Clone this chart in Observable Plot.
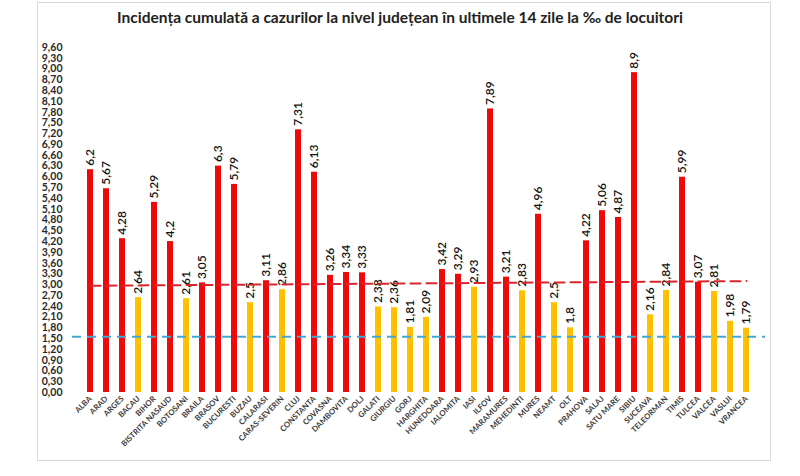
<!DOCTYPE html>
<html><head><meta charset="utf-8">
<script src="https://cdn.jsdelivr.net/npm/d3@7"></script>
<script src="https://cdn.jsdelivr.net/npm/@observablehq/plot@0.6"></script>
<style>
body{margin:0;background:#fff;font-family:Lato,"Open Sans",sans-serif;}
#wrap{position:relative;width:800px;height:476px;overflow:hidden;background:#fff;}
#box{position:absolute;left:37px;top:2px;width:732px;height:457px;border:1px solid #d9d9d9;}
#title{position:absolute;left:0;top:8px;width:800px;text-align:center;font-weight:700;font-size:15.5px;color:#222;}
#chart{position:absolute;left:0;top:30px;}
</style></head><body>
<div id="wrap"><div id="box"></div><div id="title">Incidența cumulată a cazurilor la nivel județean în ultimele 14 zile la ‰ de locuitori</div><div id="chart"></div></div>
<script>
const counties = ["ALBA","ARAD","ARGES","BACAU","BIHOR","BISTRITA NASAUD","BOTOSANI","BRAILA","BRASOV","BUCURESTI","BUZAU","CALARASI","CARAS-SEVERIN","CLUJ","CONSTANTA","COVASNA","DAMBOVITA","DOLJ","GALATI","GIURGIU","GORJ","HARGHITA","HUNEDOARA","IALOMITA","IASI","ILFOV","MARAMURES","MEHEDINTI","MURES","NEAMT","OLT","PRAHOVA","SALAJ","SATU MARE","SIBIU","SUCEAVA","TELEORMAN","TIMIS","TULCEA","VALCEA","VASLUI","VRANCEA"];
const values = [6.2,5.67,4.28,2.64,5.29,4.2,2.61,3.05,6.3,5.79,2.5,3.11,2.86,7.31,6.13,3.26,3.34,3.33,2.38,2.36,1.81,2.09,3.42,3.29,2.93,7.89,3.21,2.83,4.96,2.5,1.8,4.22,5.06,4.87,8.9,2.16,2.84,5.99,3.07,2.81,1.98,1.79];
const yTicks = [0,0.3,0.6,0.9,1.2,1.5,1.8,2.1,2.4,2.7,3.0,3.3,3.6,3.9,4.2,4.5,4.8,5.1,5.4,5.7,6.0,6.3,6.6,6.9,7.2,7.5,7.8,8.1,8.4,8.7,9.0,9.3,9.6];
const highThreshold = 3;
const redLineLevels = [2.97, 3.1];
const blueLineLevel = 1.55;

const data = counties.map((c, i) => ({county: c, value: values[i]}));
const redLine = [{county: counties[0], y: redLineLevels[0]}, {county: counties[counties.length - 1], y: redLineLevels[1]}];
const comma = v => String(v).replace(".", ",");

const chart = Plot.plot({
  width: 800, height: 446,
  marginTop: 17, marginBottom: 84, marginLeft: 72, marginRight: 35,
  style: {fontFamily: "Lato, 'Open Sans', sans-serif", background: "transparent"},
  x: {domain: counties, padding: 0.6, label: null},
  y: {domain: [0, 9.6], label: null},
  marks: [
    Plot.axisY({ticks: yTicks, tickFormat: d => d.toFixed(2).replace(".", ","), tickSize: 0, tickPadding: 10, fontSize: 10.5, fontWeight: 700, fill: "#2a2a2a", label: null}),
    Plot.axisX({tickRotate: -45, tickSize: 0, tickPadding: 5, fontSize: 7.8, fontWeight: 700, fill: "#3a3a3a", label: null}),
    Plot.barY(data, {x: "county", y: "value", fill: d => d.value >= highThreshold ? "#ee0a0a" : "#ffc000"}),
    Plot.text(data, {x: "county", y: "value", text: d => comma(d.value), rotate: -90, textAnchor: "start", dy: -4, fontSize: 12, fontWeight: 600, fill: "#111"}),
    Plot.ruleY([blueLineLevel], {stroke: "#45a7d1", strokeWidth: 2, strokeDasharray: "9,6"}),
    Plot.line(redLine, {x: "county", y: "y", stroke: "#d9262b", strokeWidth: 2, strokeDasharray: "10,6"})
  ]
});
document.getElementById("chart").append(chart);
</script>
</body></html>
